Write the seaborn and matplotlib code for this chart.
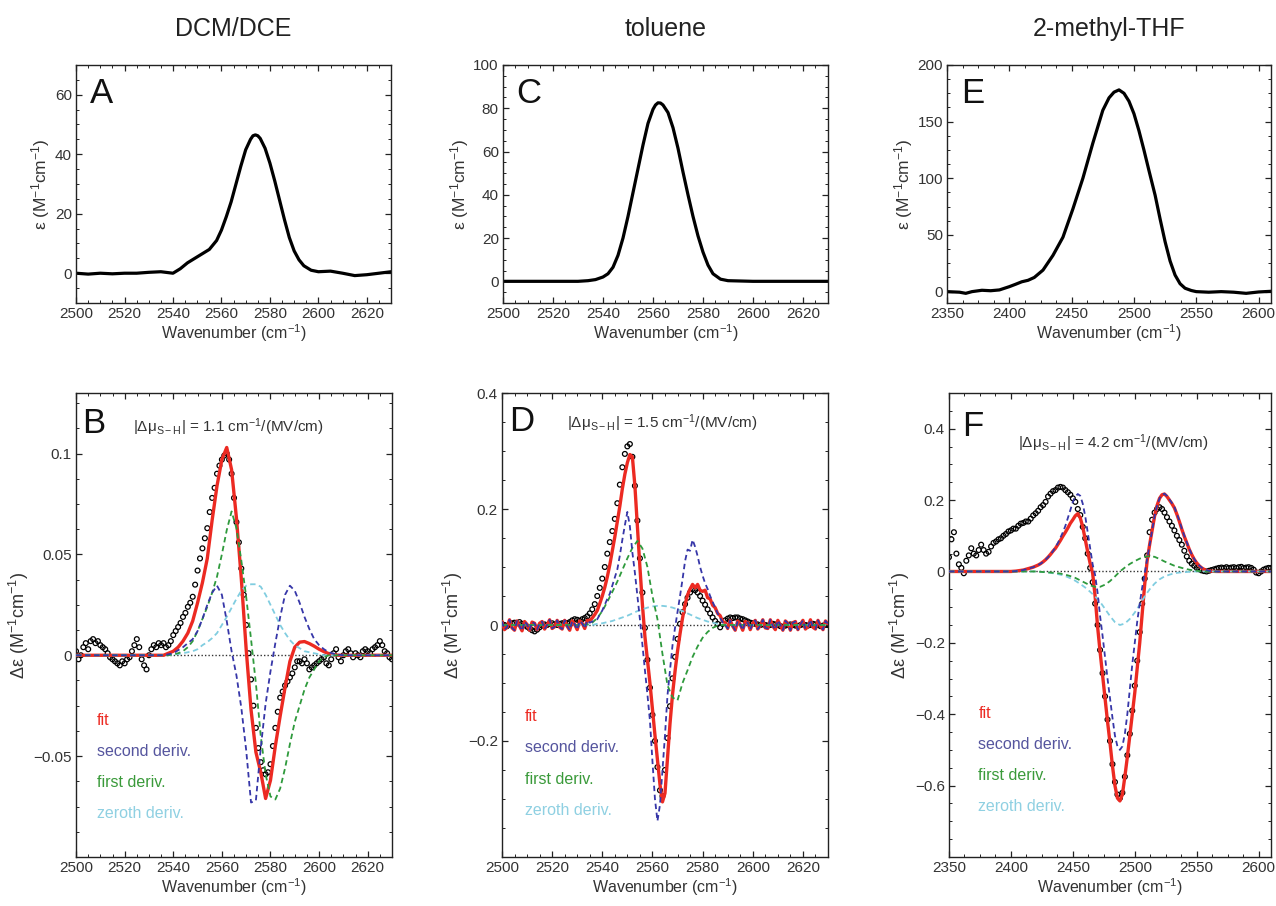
import numpy as np
import matplotlib
matplotlib.use("Agg")
import matplotlib.pyplot as plt
import seaborn as sns
from matplotlib.ticker import AutoMinorLocator, FuncFormatter

# ---------------- top row: absorption spectra ----------------
a_x = [2500, 2505, 2510, 2515, 2520, 2525, 2530, 2535, 2540,
       2543, 2546, 2549, 2552, 2555, 2558,
       2560, 2562, 2564, 2566, 2568, 2570, 2572, 2573, 2574, 2575, 2576, 2578, 2580, 2582, 2584, 2586, 2588, 2590,
       2592, 2594, 2597, 2600, 2605, 2610, 2615, 2620, 2625, 2630]
a_eps = [0, -0.3, 0, -0.2, 0, 0, 0.3, 0.5, 0,
         1.5, 3.5, 5, 6.5, 8, 11,
         14.5, 19, 24, 30, 36, 41.5, 45, 46.2, 46.5, 46.2, 45.3, 42, 37, 31, 24.5, 18, 12, 7.5,
         4.5, 2.5, 1, 0.5, 0.7, 0, -0.8, -0.5, 0, 0.5]

c_x = [2500, 2510, 2520, 2530, 2534, 2537,
       2540, 2542, 2544, 2546, 2548, 2550, 2552, 2554, 2556, 2558, 2560, 2561, 2562, 2563, 2564, 2566, 2568, 2570,
       2572, 2574, 2576, 2578, 2580, 2582, 2584,
       2587, 2590, 2600, 2610, 2620, 2630]
c_eps = [0, 0, 0, 0, 0.3, 0.8,
         2, 3.5, 6.5, 12, 20, 30, 41, 52, 63, 73, 79.5, 81.5, 82.5, 82.4, 81.5, 78, 71, 61.5,
         50.5, 40, 30, 21, 13.5, 7.5, 3.5,
         1, 0.3, 0, 0, 0, 0]

e_x = [2350, 2360, 2365, 2370, 2378, 2385, 2392,
       2400, 2405, 2410, 2415, 2420, 2427, 2435, 2443, 2451, 2459, 2467, 2475,
       2480, 2484, 2488, 2492, 2496, 2500, 2504, 2508, 2512, 2517, 2521, 2525, 2529, 2533, 2537, 2541, 2546, 2550,
       2560, 2570, 2580, 2590, 2600, 2610]
e_eps = [0, -0.5, -1.5, 0, 1.2, 0.8, 1.5,
         4.4, 6.5, 8.7, 10, 12.5, 19, 32, 48, 73, 100, 131, 160,
         171, 176, 178, 175, 168, 157, 142, 125, 107, 85, 64, 44, 27, 14.6, 7, 3, 1, 0,
         -0.5, 0, -0.5, -1.5, -0.3, 0.3]

# ---------------- panel B (DCM/DCE Stark) ----------------
b_data_x = list(range(2500, 2631))
b_data = [0.002, -0.002, 0.000, 0.004, 0.006, 0.003, 0.007, 0.008, 0.006, 0.007,
          0.005, 0.004, 0.003, 0.001, -0.001, -0.002, -0.003, -0.004, -0.005, -0.003,
          -0.004, -0.002, -0.001, 0.002, 0.005, 0.008, 0.004, -0.002, -0.005, -0.007,
          0.000, 0.003, 0.005, 0.004, 0.006, 0.005, 0.006, 0.004, 0.005, 0.007,
          0.010, 0.012, 0.014, 0.016, 0.019, 0.021, 0.024, 0.026, 0.029, 0.035,
          0.042, 0.048, 0.053, 0.058, 0.063, 0.071, 0.078, 0.083, 0.090, 0.094,
          0.097, 0.099, 0.100, 0.097, 0.090, 0.078, 0.066, 0.056, 0.043, 0.030,
          0.015, 0.001, -0.012, -0.025, -0.036, -0.046, -0.053, -0.057, -0.059, -0.058,
          -0.054, -0.045, -0.036, -0.028, -0.021, -0.018, -0.015, -0.013, -0.011, -0.009,
          -0.006, -0.003, -0.003, -0.004, -0.002, -0.004, -0.007, -0.006, -0.005, -0.004,
          -0.003, -0.002, -0.001, -0.004, -0.005, -0.002, 0.001, 0.003, -0.001, -0.003,
          0.000, 0.002, 0.003, 0.001, -0.001, 0.001, 0.000, -0.001, 0.002, 0.003,
          0.002, 0.001, 0.003, 0.004, 0.005, 0.007, 0.005, 0.002, 0.001, -0.001,
          -0.002]

b_curve_x = [2500] + list(range(2536, 2611, 2)) + [2630]
b_fit = [0] + [0.0, 0.001, 0.002, 0.004, 0.007, 0.011, 0.017, 0.026, 0.036, 0.048,
               0.067, 0.084, 0.097, 0.103, 0.092, 0.068, 0.038, 0.003, -0.027, -0.048,
               -0.058, -0.071, -0.062, -0.045, -0.030, -0.016, -0.003, 0.004, 0.0065, 0.0068,
               0.0058, 0.0045, 0.003, 0.0018, 0.0008, 0.0003, 0.0, 0.0] + [0]
b_second = [0] + [0.0, 0.0005, 0.001, 0.0025, 0.004, 0.006, 0.008, 0.012, 0.018, 0.025,
                  0.031, 0.0345, 0.030, 0.017, 0.002, -0.010, -0.026, -0.047, -0.073, -0.072,
                  -0.046, -0.024, -0.008, 0.006, 0.019, 0.030, 0.0345, 0.032, 0.026, 0.019,
                  0.013, 0.008, 0.005, 0.003, 0.0015, 0.0008, 0.0003, 0.0] + [0]
b_first = [0] + [0.0, 0.0, 0.0005, 0.001, 0.002, 0.004, 0.007, 0.012, 0.018, 0.024,
                 0.031, 0.039, 0.050, 0.062, 0.0713, 0.063, 0.047, 0.029, 0.008, -0.014,
                 -0.040, -0.059, -0.070, -0.0715, -0.066, -0.056, -0.044, -0.033, -0.025, -0.017,
                 -0.011, -0.007, -0.003, -0.001, 0.0, 0.0, 0.0, 0.0] + [0]
b_zeroth = [0] + [0.0, 0.0, 0.0003, 0.0006, 0.001, 0.0015, 0.002, 0.003, 0.005, 0.0065,
                  0.0085, 0.011, 0.015, 0.019, 0.0235, 0.028, 0.032, 0.0345, 0.0352, 0.0352,
                  0.034, 0.030, 0.025, 0.020, 0.015, 0.011, 0.0075, 0.005, 0.0035, 0.002,
                  0.0015, 0.001, 0.0005, 0.0, 0.0, 0.0, 0.0, 0.0] + [0]

# ---------------- panel D (toluene Stark) ----------------
d_x = list(range(2500, 2631))
d_data = [0.002, 0.0, -0.002, 0.001, 0.003, 0.004, 0.003, 0.005, 0.002, 0.0,
          -0.003, -0.006, -0.009, -0.011, -0.008, -0.004, -0.001, 0.001, 0.0, 0.002,
          0.003, 0.001, 0.0, 0.002, 0.003, 0.004, 0.003, 0.005, 0.008, 0.01,
          0.009, 0.007, 0.01, 0.012, 0.015, 0.02, 0.027, 0.036, 0.05, 0.064,
          0.08, 0.1, 0.123, 0.143, 0.162, 0.183, 0.21, 0.242, 0.272, 0.295,
          0.308, 0.312, 0.29, 0.24, 0.18, 0.115, 0.056, -0.005, -0.06, -0.108,
          -0.155, -0.2, -0.245, -0.285, -0.295, -0.25, -0.195, -0.14, -0.092, -0.055,
          -0.024, 0.002, 0.022, 0.036, 0.047, 0.056, 0.062, 0.06, 0.056, 0.05,
          0.042, 0.035, 0.027, 0.02, 0.013, 0.007, 0.002, -0.004, 0.002, 0.008,
          0.011, 0.013, 0.012, 0.013, 0.013, 0.011, 0.01, 0.008, 0.006, 0.004,
          0.003, 0.002, 0.001, 0.0, 0.001, 0.0, -0.001, 0.0, 0.002, 0.001,
          0.0, -0.002, -0.003, -0.001, 0.0, 0.001, 0.0, -0.001, -0.002, 0.0,
          0.001, 0.0, -0.001, 0.0, 0.002, 0.001, 0.0, -0.002, -0.001, 0.0,
          0.0]
# interference fringes on the baseline (2500-2534 and 2590-2630)
d_fringe_left = [0.006, -0.008, -0.004, 0.009, -0.005, -0.009, 0.007, -0.002, -0.010, 0.006,
                 0.001, -0.009, 0.005, 0.003, -0.008, 0.003, 0.006, -0.007, 0.000, 0.009,
                 -0.006, -0.003, 0.008, -0.004, -0.007, 0.008, -0.002, -0.009, 0.007, 0.001,
                 -0.008, 0.007, 0.003, -0.006, 0.008]
d_fringe_right = [-0.006, 0.008, -0.002, -0.009, 0.007, 0.001, -0.009, 0.006, 0.004, -0.008,
                  0.003, 0.008, -0.007, -0.001, 0.009, -0.005, -0.006, 0.009, -0.002, -0.008,
                  0.008, 0.000, -0.009, 0.007, 0.003, -0.009, 0.004, 0.006, -0.008, 0.001,
                  0.008, -0.007, -0.003, 0.009, -0.004, -0.007, 0.008, -0.001, -0.008, 0.007,
                  0.002]
# 2535-2589
d_fit_core = [0.008, 0.012, 0.018, 0.025, 0.037, 0.05, 0.065, 0.083, 0.104, 0.128,
              0.152, 0.178, 0.205, 0.235, 0.26, 0.28, 0.294, 0.29, 0.24, 0.17,
              0.10, 0.035, -0.02, -0.06, -0.10, -0.145, -0.19, -0.232, -0.275, -0.305,
              -0.29, -0.23, -0.17, -0.12, -0.08, -0.045, -0.015, 0.012, 0.035, 0.052,
              0.062, 0.07, 0.064, 0.07, 0.06, 0.058, 0.06, 0.047, 0.045, 0.034,
              0.03, 0.02, 0.016, 0.006, 0.004]
d_second_core = [0.004, 0.006, 0.008, 0.01, 0.018, 0.025, 0.035, 0.045, 0.054, 0.068,
                 0.082, 0.096, 0.12, 0.147, 0.172, 0.195, 0.17, 0.125, 0.09, 0.05,
                 0.01, -0.035, -0.078, -0.12, -0.165, -0.235, -0.30, -0.338, -0.31, -0.25,
                 -0.19, -0.121, -0.078, -0.035, -0.005, 0.022, 0.05, 0.079, 0.11, 0.13,
                 0.128, 0.147, 0.135, 0.119, 0.10, 0.085, 0.072, 0.062, 0.05, 0.04,
                 0.03, 0.02, 0.012, 0.005, 0.0]
d_fit = d_fringe_left + d_fit_core + d_fringe_right
d_second = d_fringe_left + d_second_core + d_fringe_right

d_smooth_x = [2500] + list(range(2530, 2591, 2)) + [2630]
d_first = [0] + [0.0, 0.0, 0.001, 0.004, 0.012, 0.024, 0.040, 0.057, 0.075, 0.095,
                 0.115, 0.133, 0.145, 0.132, 0.10, 0.05, 0.01, -0.05, -0.104, -0.125,
                 -0.13, -0.10, -0.078, -0.055, -0.037, -0.022, -0.012, -0.005, -0.001, 0.0,
                 0.0] + [0]
d_zeroth = [0] + [0.0, 0.0, 0.0, 0.0, 0.002, 0.003, 0.005, 0.007, 0.01, 0.013,
                  0.016, 0.02, 0.024, 0.027, 0.03, 0.032, 0.033, 0.033, 0.032, 0.03,
                  0.027, 0.024, 0.02, 0.016, 0.012, 0.009, 0.006, 0.004, 0.002, 0.001,
                  0.0] + [0]

# ---------------- panel F (2-methyl-THF Stark) ----------------
f_data_x = list(range(2350, 2611, 2))
f_data = [0.04, 0.09, 0.11, 0.05, 0.02, 0.01, -0.005, 0.03, 0.045, 0.065,
          0.05, 0.045, 0.06, 0.075, 0.06, 0.05, 0.055, 0.07, 0.08, 0.084,
          0.09, 0.093, 0.10, 0.105, 0.112, 0.115, 0.12, 0.12, 0.128, 0.134,
          0.136, 0.14, 0.14, 0.148, 0.157, 0.163, 0.17, 0.18, 0.186, 0.195,
          0.21, 0.218, 0.225, 0.228, 0.235, 0.237, 0.235, 0.228, 0.222, 0.215,
          0.205, 0.195, 0.175, 0.158, 0.125, 0.093, 0.05, 0.01, -0.03, -0.09,
          -0.15, -0.22, -0.285, -0.35, -0.415, -0.475, -0.54, -0.59, -0.625, -0.635,
          -0.62, -0.575, -0.515, -0.455, -0.39, -0.32, -0.25, -0.17, -0.09, -0.02,
          0.045, 0.11, 0.145, 0.165, 0.175, 0.18, 0.175, 0.165, 0.152, 0.14,
          0.128, 0.115, 0.10, 0.088, 0.075, 0.058, 0.042, 0.03, 0.022, 0.016,
          0.01, 0.006, 0.003, 0.001, 0.0, 0.002, 0.004, 0.006, 0.008, 0.01,
          0.011, 0.01, 0.012, 0.01, 0.011, 0.012, 0.01, 0.012, 0.013, 0.01,
          0.011, 0.012, 0.01, 0.005, -0.003, -0.005, 0.0, 0.005, 0.008, 0.01,
          0.01]

f_curve_x = [2350] + list(range(2400, 2571, 2)) + [2610]
f_fit = [0] + [0.0, 0.0005, 0.001, 0.002, 0.003, 0.004, 0.006, 0.008, 0.01, 0.012,
               0.015, 0.018, 0.022, 0.027, 0.033, 0.04, 0.048, 0.057, 0.065, 0.076,
               0.087, 0.099, 0.11, 0.122, 0.135, 0.145, 0.156, 0.162, 0.15, 0.125,
               0.09, 0.055, 0.022, -0.005, -0.07, -0.155, -0.225, -0.29, -0.355, -0.42,
               -0.48, -0.545, -0.60, -0.635, -0.643, -0.625, -0.575, -0.52, -0.46, -0.40,
               -0.34, -0.27, -0.20, -0.118, -0.037, 0.03, 0.075, 0.115, 0.155, 0.185,
               0.205, 0.215, 0.217, 0.21, 0.20, 0.19, 0.178, 0.16, 0.14, 0.118,
               0.098, 0.08, 0.062, 0.047, 0.034, 0.024, 0.016, 0.01, 0.006, 0.003,
               0.0015, 0.0008, 0.0003, 0.0, 0.0, 0.0] + [0]
f_second = [0] + [0.0, 0.0005, 0.001, 0.002, 0.003, 0.004, 0.006, 0.008, 0.01, 0.012,
                  0.015, 0.018, 0.022, 0.027, 0.033, 0.04, 0.048, 0.057, 0.068, 0.08,
                  0.095, 0.11, 0.128, 0.15, 0.172, 0.195, 0.21, 0.217, 0.212, 0.19,
                  0.155, 0.11, 0.065, 0.02, -0.01, -0.06, -0.125, -0.18, -0.24, -0.30,
                  -0.355, -0.41, -0.46, -0.49, -0.50, -0.49, -0.455, -0.40, -0.33, -0.26,
                  -0.20, -0.14, -0.09, -0.045, -0.005, 0.035, 0.075, 0.115, 0.155, 0.185,
                  0.205, 0.215, 0.218, 0.212, 0.202, 0.192, 0.18, 0.162, 0.142, 0.12,
                  0.1, 0.082, 0.064, 0.048, 0.035, 0.025, 0.017, 0.011, 0.007, 0.004,
                  0.002, 0.001, 0.0005, 0.0, 0.0, 0.0] + [0]

f_smooth_x = [2350] + list(range(2420, 2561, 4)) + [2610]
f_first = [0] + [0.0, -0.001, -0.002, -0.003, -0.004, -0.006, -0.009, -0.013, -0.018, -0.025,
                 -0.032, -0.039, -0.043, -0.043, -0.037, -0.027, -0.014, 0.0, 0.011, 0.021,
                 0.029, 0.036, 0.041, 0.043, 0.041, 0.035, 0.028, 0.022, 0.016, 0.012,
                 0.008, 0.005, 0.003, 0.001, 0.0, 0.0] + [0]
f_zeroth = [0] + [0.0, -0.001, -0.002, -0.004, -0.006, -0.009, -0.013, -0.019, -0.026, -0.035,
                  -0.045, -0.057, -0.07, -0.085, -0.105, -0.125, -0.142, -0.15, -0.146, -0.133,
                  -0.115, -0.093, -0.07, -0.05, -0.034, -0.022, -0.014, -0.009, -0.005, -0.003,
                  -0.002, -0.001, 0.0, 0.0, 0.0, 0.0] + [0]

# ---------------- style ----------------
RED = "#ec2a22"
BLUE = "#3636a8"
GREEN = "#2e9a3c"
CYAN = "#80cde0"
TXT = "#333333"

sns.set_theme(style="ticks")
plt.rcParams["font.family"] = ["Liberation Sans", "DejaVu Sans"]
plt.rcParams["mathtext.fontset"] = "custom"
plt.rcParams["mathtext.rm"] = "Liberation Sans"
plt.rcParams["mathtext.it"] = "Liberation Sans:italic"
plt.rcParams["axes.unicode_minus"] = True

fig = plt.figure(figsize=(12.76, 9.06), dpi=100)

top_pos = [[0.0596, 0.6656, 0.2469, 0.2627],
           [0.3942, 0.6656, 0.2547, 0.2627],
           [0.7422, 0.6656, 0.2539, 0.2627]]
bot_pos = [[0.0596, 0.0541, 0.2476, 0.5121],
           [0.3934, 0.0541, 0.2555, 0.5121],
           [0.7437, 0.0541, 0.2524, 0.5121]]


def fmt(v, pos):
    s = "%g" % v
    return s.replace("-", "\u2212")


def style_axes(ax, xlim, xticks, ylim, yticks):
    ax.set_xlim(*xlim)
    ax.set_ylim(*ylim)
    ax.set_xticks(xticks)
    ax.set_yticks(yticks)
    ax.yaxis.set_major_formatter(FuncFormatter(fmt))
    ax.xaxis.set_minor_locator(AutoMinorLocator(4))
    ax.yaxis.set_minor_locator(AutoMinorLocator(4))
    ax.tick_params(which="both", direction="in", top=True, right=True, colors="#222222")
    ax.tick_params(which="major", length=4.5, width=0.9, labelsize=11, labelcolor=TXT, pad=3)
    ax.tick_params(which="minor", length=2.5, width=0.7)
    for sp in ax.spines.values():
        sp.set_linewidth(1.0)
        sp.set_color("#222222")
    ax.set_xlabel("Wavenumber (cm$^{-1}$)", fontsize=11.5, color=TXT, labelpad=1)


titles = ["DCM/DCE", "toluene", "2-methyl-THF"]
top_data = [(a_x, a_eps), (c_x, c_eps), (e_x, e_eps)]
top_lims = [((2500, 2630), range(2500, 2621, 20), (-10, 70), [0, 20, 40, 60]),
            ((2500, 2630), range(2500, 2621, 20), (-10, 100), [0, 20, 40, 60, 80, 100]),
            ((2350, 2610), range(2350, 2601, 50), (-10, 200), [0, 50, 100, 150, 200])]
top_letters = ["A", "C", "E"]

for i in range(3):
    ax = fig.add_axes(top_pos[i])
    x, y = top_data[i]
    sns.lineplot(x=x, y=y, ax=ax, color="black", lw=2.3, estimator=None, sort=False)
    xl, xt, yl, yt = top_lims[i]
    style_axes(ax, xl, list(xt), yl, yt)
    ax.set_ylabel("\u03b5 (M$^{-1}$cm$^{-1}$)", fontsize=12.5, color=TXT, labelpad=2)
    ax.text(0.08, 0.88, top_letters[i], transform=ax.transAxes, fontsize=25,
            ha="center", va="center", color="#111111")
    p = top_pos[i]
    fig.text(p[0] + p[2] / 2, 0.968, titles[i], ha="center", va="center",
             fontsize=18, color="#222222")

# ---------------- bottom row ----------------
bottom = [
    dict(data=(b_data_x, b_data), fit=(b_curve_x, b_fit), second=(b_curve_x, b_second),
         first=(b_curve_x, b_first), zeroth=(b_curve_x, b_zeroth),
         xlim=(2500, 2630), xt=range(2500, 2621, 20), ylim=(-0.1, 0.13),
         yt=[-0.05, 0, 0.05, 0.1], letter="B", lpos=(0.055, 0.935),
         note="1.1", npos=(0.18, 0.927), legy=0.295, legx=0.066),
    dict(data=(d_x, d_data), fit=(d_x, d_fit), second=(d_x, d_second),
         first=(d_smooth_x, d_first), zeroth=(d_smooth_x, d_zeroth),
         xlim=(2500, 2630), xt=range(2500, 2621, 20), ylim=(-0.4, 0.4),
         yt=[-0.2, 0, 0.2, 0.4], letter="D", lpos=(0.06, 0.938),
         note="1.5", npos=(0.20, 0.935), legy=0.302, legx=0.07),
    dict(data=(f_data_x, f_data), fit=(f_curve_x, f_fit), second=(f_curve_x, f_second),
         first=(f_smooth_x, f_first), zeroth=(f_smooth_x, f_zeroth),
         xlim=(2350, 2610), xt=range(2350, 2601, 50), ylim=(-0.8, 0.5),
         yt=[-0.6, -0.4, -0.2, 0, 0.2, 0.4], letter="F", lpos=(0.075, 0.927),
         note="4.2", npos=(0.214, 0.892), legy=0.31, legx=0.091),
]

for i, pn in enumerate(bottom):
    ax = fig.add_axes(bot_pos[i])
    ax.axhline(0, color="#333333", lw=1.0, ls=(0, (1, 1.5)), zorder=1)
    dx, dy = pn["data"]
    sns.scatterplot(x=dx, y=dy, ax=ax, marker="o", s=12, facecolor="none",
                    edgecolor="black", linewidth=0.9, zorder=2, legend=False)
    x, y = pn["fit"]
    sns.lineplot(x=x, y=y, ax=ax, color=RED, lw=2.4, estimator=None, sort=False, zorder=3)
    x, y = pn["zeroth"]
    sns.lineplot(x=x, y=y, ax=ax, color=CYAN, lw=1.3, ls=(0, (3, 2)),
                 estimator=None, sort=False, zorder=4)
    x, y = pn["first"]
    sns.lineplot(x=x, y=y, ax=ax, color=GREEN, lw=1.3, ls=(0, (3, 2)),
                 estimator=None, sort=False, zorder=4)
    x, y = pn["second"]
    sns.lineplot(x=x, y=y, ax=ax, color=BLUE, lw=1.3, ls=(0, (3, 2)),
                 estimator=None, sort=False, zorder=5)
    style_axes(ax, pn["xlim"], list(pn["xt"]), pn["ylim"], pn["yt"])
    ax.set_ylabel("\u0394\u03b5 (M$^{-1}$cm$^{-1}$)", fontsize=13, color=TXT, labelpad=2)
    ax.text(pn["lpos"][0], pn["lpos"][1], pn["letter"], transform=ax.transAxes,
            fontsize=25, ha="center", va="center", color="#111111")
    ax.text(pn["npos"][0], pn["npos"][1],
            "|\u0394\u03bc$_{\\mathrm{S-H}}$| = " + pn["note"] + " cm$^{-1}$/(MV/cm)",
            transform=ax.transAxes, fontsize=11, ha="left", va="center", color=TXT)
    labels = [("fit", RED), ("second deriv.", "#55559e"),
              ("first deriv.", "#3a9a3a"), ("zeroth deriv.", "#8fd0e2")]
    for k, (lab, col) in enumerate(labels):
        ax.text(pn["legx"], pn["legy"] - 0.067 * k, lab, transform=ax.transAxes,
                fontsize=11.5, ha="left", va="center", color=col)

fig.savefig("out.png", dpi=100)
